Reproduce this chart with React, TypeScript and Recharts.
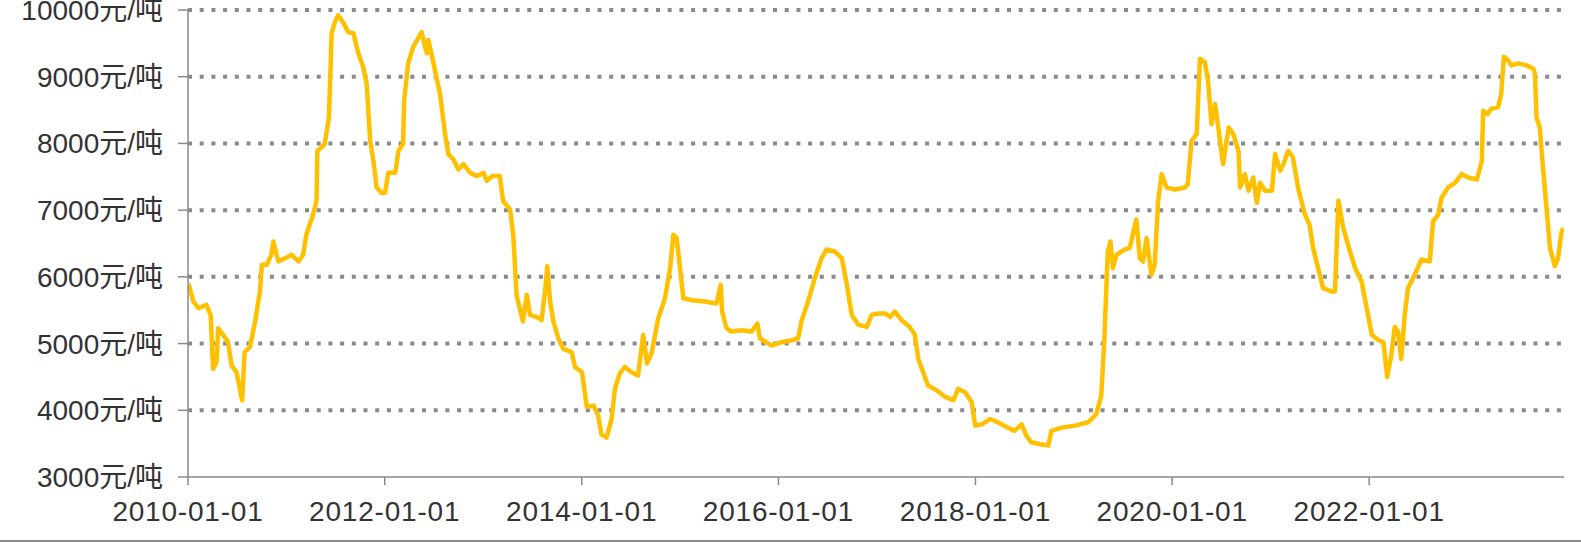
import React from "react";
import { LineChart, Line, XAxis, YAxis, CartesianGrid } from "recharts";

const dates: string[] = [
  "2010-01-03","2010-01-21","2010-02-09","2010-03-10","2010-03-26","2010-04-04","2010-04-17","2010-04-23","2010-05-11","2010-05-29",
  "2010-06-12","2010-06-30","2010-07-21","2010-07-30","2010-08-19","2010-09-07","2010-09-25","2010-10-02","2010-10-20","2010-11-06",
  "2010-11-14","2010-12-02","2010-12-27","2011-01-21","2011-02-15","2011-03-04","2011-03-16","2011-04-10","2011-04-23","2011-04-26",
  "2011-05-11","2011-05-23","2011-06-08","2011-06-18","2011-06-30","2011-07-12","2011-07-30","2011-08-18","2011-09-07","2011-09-25",
  "2011-10-13","2011-10-26","2011-11-08","2011-11-20","2011-12-02","2011-12-20","2012-01-02","2012-01-14","2012-02-09","2012-02-21",
  "2012-03-09","2012-03-13","2012-03-28","2012-04-16","2012-05-17","2012-06-05","2012-06-11","2012-06-29","2012-07-24","2012-08-12",
  "2012-08-24","2012-09-12","2012-09-30","2012-10-19","2012-11-13","2012-12-08","2013-01-02","2013-01-14","2013-02-03","2013-03-03",
  "2013-03-15","2013-04-10","2013-04-22","2013-05-04","2013-05-16","2013-05-28","2013-06-11","2013-06-23","2013-07-17","2013-08-05",
  "2013-08-18","2013-08-26","2013-09-06","2013-09-18","2013-10-06","2013-10-25","2013-11-25","2013-12-07","2014-01-02","2014-01-20",
  "2014-02-14","2014-03-03","2014-03-15","2014-04-03","2014-04-22","2014-05-04","2014-05-22","2014-06-10","2014-07-05","2014-07-29",
  "2014-08-17","2014-08-31","2014-09-18","2014-10-12","2014-11-06","2014-11-25","2014-12-07","2014-12-19","2015-01-01","2015-01-13",
  "2015-02-14","2015-04-03","2015-05-16","2015-06-01","2015-06-06","2015-06-22","2015-07-10","2015-08-17","2015-09-23","2015-10-15",
  "2015-10-24","2015-12-07","2016-01-13","2016-02-20","2016-03-14","2016-03-26","2016-04-20","2016-05-15","2016-06-09","2016-06-28",
  "2016-07-28","2016-08-23","2016-09-11","2016-09-29","2016-10-24","2016-11-24","2016-12-12","2017-01-06","2017-02-01","2017-02-19",
  "2017-03-08","2017-04-02","2017-05-02","2017-05-21","2017-06-03","2017-06-21","2017-07-09","2017-08-10","2017-09-11","2017-10-11",
  "2017-10-29","2017-11-24","2017-12-18","2017-12-31","2018-01-25","2018-02-25","2018-03-25","2018-05-02","2018-05-26","2018-06-21",
  "2018-07-09","2018-07-27","2018-08-28","2018-09-28","2018-10-10","2018-11-17","2019-01-06","2019-02-24","2019-03-25","2019-04-13",
  "2019-04-25","2019-05-07","2019-05-17","2019-05-26","2019-06-08","2019-07-09","2019-07-27","2019-08-21","2019-09-03","2019-09-15",
  "2019-09-28","2019-10-16","2019-10-28","2019-11-10","2019-11-23","2019-12-11","2020-01-11","2020-02-18","2020-02-28","2020-03-13",
  "2020-04-01","2020-04-13","2020-05-01","2020-05-13","2020-05-26","2020-06-08","2020-06-20","2020-07-08","2020-07-17","2020-07-29",
  "2020-08-15","2020-09-03","2020-09-09","2020-09-27","2020-10-10","2020-10-28","2020-11-10","2020-11-22","2020-12-11","2021-01-05",
  "2021-01-17","2021-02-05","2021-02-17","2021-03-06","2021-03-24","2021-04-12","2021-05-07","2021-05-25","2021-06-07","2021-07-02",
  "2021-07-14","2021-08-15","2021-08-27","2021-09-09","2021-09-27","2021-10-22","2021-11-10","2021-12-04","2021-12-23","2022-01-11",
  "2022-02-05","2022-02-23","2022-03-09","2022-03-24","2022-04-06","2022-04-18","2022-04-30","2022-05-13","2022-05-25","2022-06-19",
  "2022-07-14","2022-08-14","2022-08-26","2022-09-14","2022-09-27","2022-10-21","2022-11-16","2022-12-10","2023-01-04","2023-02-05",
  "2023-02-23","2023-02-28","2023-03-17","2023-03-30","2023-04-24","2023-05-06","2023-05-16","2023-05-30","2023-06-13","2023-07-07",
  "2023-08-08","2023-09-02","2023-09-08","2023-09-14","2023-09-26","2023-10-08","2023-10-21","2023-11-03","2023-11-21","2023-12-03",
  "2023-12-16","2023-12-22"
];

const prices: number[] = [
  5900,5630,5530,5580,5430,4620,4720,5230,5130,5030,
  4670,4570,4150,4870,4950,5330,5780,6180,6180,6330,
  6530,6230,6280,6330,6230,6330,6630,6930,7140,7890,
  7940,7990,8390,9650,9820,9920,9820,9670,9650,9350,
  9150,8890,8040,7740,7340,7260,7260,7560,7560,7890,
  7990,8640,9200,9450,9670,9350,9550,9220,8740,8140,
  7840,7760,7610,7690,7560,7510,7560,7440,7510,7510,
  7140,7010,6630,5730,5530,5330,5730,5430,5400,5350,
  5780,6160,5630,5330,5080,4920,4870,4650,4570,4050,
  4070,3920,3640,3590,3870,4320,4550,4650,4570,4520,
  5130,4700,4870,5380,5680,6130,6630,6580,6130,5680,
  5650,5630,5600,5880,5480,5230,5180,5200,5180,5300,
  5080,4970,5020,5050,5080,5330,5630,5980,6280,6410,
  6380,6280,5880,5430,5280,5250,5430,5450,5450,5400,
  5480,5350,5250,5130,4770,4570,4370,4300,4200,4150,
  4320,4270,4120,3770,3790,3870,3820,3740,3690,3790,
  3620,3520,3490,3470,3690,3740,3770,3820,3940,4220,
  5130,6380,6530,6130,6330,6410,6430,6860,6280,6230,
  6580,6030,6180,7140,7540,7340,7310,7340,7390,8040,
  8140,9270,9220,8940,8290,8590,8240,7690,7940,8240,
  8140,7890,7340,7540,7290,7490,7110,7410,7290,7290,
  7840,7590,7690,7890,7790,7340,6940,6780,6430,6030,
  5830,5780,5780,7140,6730,6380,6130,5930,5530,5130,
  5050,5020,4500,4820,5250,5180,4770,5430,5830,6030,
  6260,6230,6830,6930,7190,7340,7410,7540,7490,7460,
  7740,8490,8440,8520,8540,8740,9300,9250,9170,9200,
  9170,9120,9050,8390,8240,7640,7040,6430,6160,6280,
  6680,6730
];

const xTickLabels: string[] = [
  "2010-01-01","2012-01-01","2014-01-01","2016-01-01","2018-01-01","2020-01-01","2022-01-01"
];
const yTicks: number[] = [3000,4000,5000,6000,7000,8000,9000,10000];
const gridValues: number[] = [4000,5000,6000,7000,8000,9000,10000];
const unit = "元/吨";

const toTs = (s: string) => {
  const [y, m, d] = s.split("-").map(Number);
  return Date.UTC(y, m - 1, d);
};

const data = dates.map((d, i) => ({ t: toTs(d), price: prices[i] }));
const xTicks = xTickLabels.map(toTs);
const xDomain = [toTs("2010-01-01"), toTs("2023-12-25")];

const fmtDate = (v: number) => {
  const dt = new Date(v);
  const mm = String(dt.getUTCMonth() + 1).padStart(2, "0");
  const dd = String(dt.getUTCDate()).padStart(2, "0");
  return `${dt.getUTCFullYear()}-${mm}-${dd}`;
};

const FONT = "'Liberation Sans', 'Noto Sans CJK SC', sans-serif";

export default function App() {
  return (
    <div style={{ position: "absolute", left: 0, top: 0, width: 1581, height: 542, background: "#fff" }}>
      <LineChart
        width={1581}
        height={542}
        data={data}
        margin={{ top: 10, right: 17, bottom: 25, left: 0 }}
      >
        <CartesianGrid
          horizontal
          vertical={false}
          horizontalValues={gridValues}
          stroke="#8a8a8a"
          strokeWidth={4}
          strokeDasharray="4 7.7"
        />
        <XAxis
          dataKey="t"
          type="number"
          domain={xDomain}
          ticks={xTicks}
          tickFormatter={fmtDate}
          height={40}
          tickSize={8}
          tickMargin={16}
          interval={0}
          axisLine={{ stroke: "#8a8a8a", strokeWidth: 1.5 }}
          tickLine={{ stroke: "#8a8a8a", strokeWidth: 1.5 }}
          tick={{ fill: "#333", fontSize: 28, fontFamily: FONT, letterSpacing: 0.8 }}
          allowDataOverflow
        />
        <YAxis
          type="number"
          domain={[3000, 10000]}
          ticks={yTicks}
          tickFormatter={(v: number) => `${v}${unit}`}
          width={188}
          tickSize={10}
          tickMargin={15}
          interval={0}
          axisLine={{ stroke: "#8a8a8a", strokeWidth: 1.5 }}
          tickLine={{ stroke: "#8a8a8a", strokeWidth: 1.5 }}
          tick={{ fill: "#333", fontSize: 28, fontFamily: FONT }}
        />
        <Line
          type="linear"
          dataKey="price"
          stroke="#FFC000"
          strokeWidth={4.5}
          dot={false}
          activeDot={false}
          strokeLinejoin="round"
          isAnimationActive={false}
        />
      </LineChart>
      <div style={{ position: "absolute", left: 0, top: 540, width: 1581, height: 2, background: "#8a8a8a" }} />
    </div>
  );
}
